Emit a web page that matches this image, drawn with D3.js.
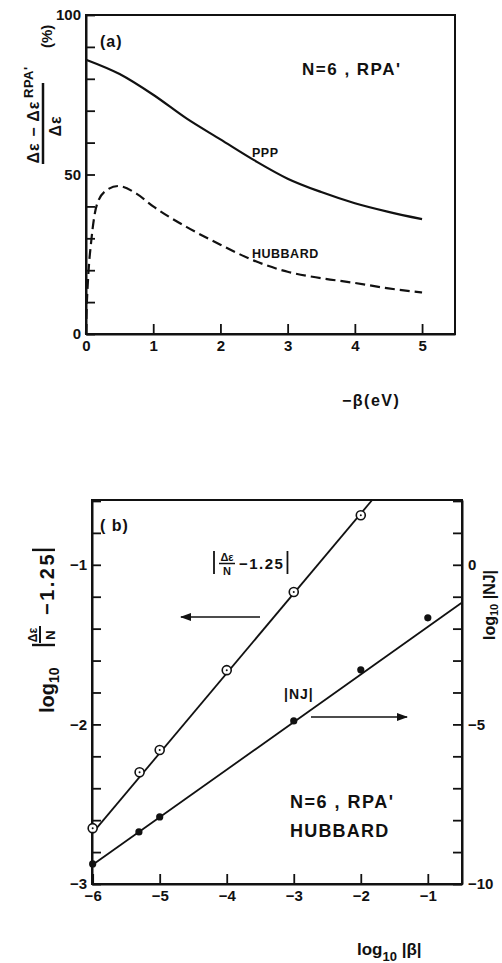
<!DOCTYPE html>
<html>
<head>
<meta charset="utf-8">
<script src="https://cdn.jsdelivr.net/npm/d3@7/dist/d3.min.js"></script>
<style>
  body { margin:0; background:#fff; }
  svg text { font-family:"Liberation Sans", Arial, sans-serif; font-weight:bold; fill:#111; }
</style>
</head>
<body>
<div id="main"></div>
<script>
// ---- panel (a) data : percentage vs -beta (eV)
var pppBeta = [0, 0.5, 1, 1.5, 2, 2.5, 3, 3.5, 4, 4.5, 5];
var pppVal  = [86, 81.5, 75, 67.5, 61, 54.5, 48.7, 44.5, 41, 38.3, 36];
var hubBeta = [0, 0.01, 0.03, 0.08, 0.16, 0.3, 0.48, 0.75, 1, 1.5, 2, 2.5, 3, 3.5, 4, 4.5, 5];
var hubVal  = [0, 8, 17, 29.5, 40.4, 45, 46.4, 44, 40, 33.5, 28, 23, 19.5, 17.5, 16, 14.3, 13];
var aXTicks = [0, 1, 2, 3, 4, 5];
var aYTicks = [0, 10, 20, 30, 40, 50, 60, 70, 80, 90, 100];
var aYLabels = [0, 50, 100];

// ---- panel (b) data : log10|beta|
var deLogB  = [-6, -5.3, -5, -4, -3, -2];
var deVal   = [-2.65, -2.30, -2.16, -1.66, -1.17, -0.69];
var deFit   = [[-6, -2.68], [-1.83, -0.594]];
var njLogB  = [-6, -5.31, -5, -3, -2, -1];
var njVal   = [-9.37, -8.37, -7.9, -4.89, -3.29, -1.66];
var njFit   = [[-6, -9.4], [-0.5, -1.2]];
var bXTicks = [-6, -5, -4, -3, -2, -1];
var bYLeftTicks = d3.range(-3, -0.59, 0.2).map(function(v){ return Math.round(v*10)/10; });
var bYLeftLabels = [-1, -2, -3];
var bYRightTicks = [2, 1, 0, -1, -2, -3, -4, -5, -6, -7, -8, -9, -10];
var bYRightLabels = [0, -5, -10];

var svg = d3.select('#main').append('svg')
	.attr('width', 502)
	.attr('height', 963);

function fmt(v){ return String(v).replace('-', '\u2212'); }
function vbar(g, x, y1, y2, w){
	return g.append('line').attr('x1', x).attr('x2', x).attr('y1', y1).attr('y2', y2)
		.attr('stroke', '#111').attr('stroke-width', w);
}

// ============ PANEL A ============
var xa = d3.scaleLinear().domain([0, 5.49]).range([86, 455]);
var ya = d3.scaleLinear().domain([0, 100]).range([334, 15]);

var ga = svg.append('g');

ga.append('g')
	.attr('transform', 'translate(0,334)')
	.call(d3.axisBottom(xa).tickValues(aXTicks).tickSizeInner(-10).tickSizeOuter(0).tickPadding(6)
		.tickFormat(function(d){ return fmt(d); }));
ga.append('g')
	.attr('transform', 'translate(86,0)')
	.call(d3.axisLeft(ya).tickValues(aYTicks).tickSizeInner(-9).tickSizeOuter(0).tickPadding(5)
		.tickFormat(function(d){ return aYLabels.indexOf(d) >= 0 ? d : ''; }));

ga.append('rect')
	.attr('x', xa(0)).attr('y', ya(100))
	.attr('width', xa(5.49) - xa(0)).attr('height', ya(0) - ya(100))
	.attr('fill', 'none').attr('stroke', '#111').attr('stroke-width', 2);

var lineA = d3.line().curve(d3.curveMonotoneX)
	.x(function(d){ return xa(d[0]); })
	.y(function(d){ return ya(d[1]); });

ga.append('path')
	.datum(d3.zip(pppBeta, pppVal))
	.attr('d', lineA)
	.attr('fill', 'none').attr('stroke', '#111').attr('stroke-width', 2.2);

ga.append('path')
	.datum(d3.zip(hubBeta, hubVal))
	.attr('d', lineA)
	.attr('fill', 'none').attr('stroke', '#111').attr('stroke-width', 2.2)
	.attr('stroke-dasharray', '10,5');

ga.append('text').attr('x', 100).attr('y', 47).attr('font-size', 16).attr('letter-spacing', 1).text('(a)');
ga.append('text').attr('x', 302).attr('y', 75).attr('font-size', 17).attr('letter-spacing', 1.5).text("N=6 , RPA'");
ga.append('text').attr('x', 252).attr('y', 157).attr('font-size', 12.5).attr('letter-spacing', 0.5).text('PPP');
ga.append('text').attr('x', 252).attr('y', 258).attr('font-size', 12.5).attr('letter-spacing', 0.5).text('HUBBARD');
ga.append('text').attr('x', 342).attr('y', 406).attr('font-size', 16).attr('letter-spacing', 1.5).text('\u2212\u03b2(eV)');

// rotated y title, local x = -global y, local y = global x
var ta = ga.append('g').attr('transform', 'rotate(-90)');
ta.append('text').attr('x', -132).attr('y', 39).attr('text-anchor', 'middle').attr('font-size', 16).attr('letter-spacing', 1).text('\u0394\u03b5 \u2212 \u0394\u03b5');
ta.append('line').attr('x1', -164).attr('x2', -83).attr('y1', 43).attr('y2', 43).attr('stroke', '#111').attr('stroke-width', 2.5);
ta.append('text').attr('x', -126).attr('y', 61).attr('text-anchor', 'middle').attr('font-size', 16).attr('letter-spacing', 1).text('\u0394\u03b5');
ta.append('text').attr('x', -98).attr('y', 33).attr('font-size', 13).attr('letter-spacing', 0.5).text("RPA'");
ta.append('text').attr('x', -48).attr('y', 52).attr('font-size', 15).text('(%)');

// ============ PANEL B ============
var xb = d3.scaleLinear().domain([-6.01, -0.49]).range([92, 462]);
var yb = d3.scaleLinear().domain([-3, -0.594]).range([884, 500]);
var yr = d3.scaleLinear().domain([-10, 2.03]).range([884, 500]);

var gb = svg.append('g');

gb.append('g')
	.attr('transform', 'translate(0,884)')
	.call(d3.axisBottom(xb).tickValues(bXTicks).tickSizeInner(-10).tickSizeOuter(0).tickPadding(6)
		.tickFormat(function(d){ return fmt(d); }));
gb.append('g')
	.attr('transform', 'translate(92,0)')
	.call(d3.axisLeft(yb).tickValues(bYLeftTicks).tickSizeInner(-9).tickSizeOuter(0).tickPadding(5)
		.tickFormat(function(d){ return bYLeftLabels.indexOf(d) >= 0 ? fmt(d) : ''; }));
gb.append('g')
	.attr('transform', 'translate(462,0)')
	.call(d3.axisRight(yr).tickValues(bYRightTicks).tickSizeInner(-9).tickSizeOuter(0).tickPadding(6)
		.tickFormat(function(d){ return bYRightLabels.indexOf(d) >= 0 ? fmt(d) : ''; }));

gb.append('rect')
	.attr('x', 92).attr('y', 500)
	.attr('width', 370).attr('height', 384)
	.attr('fill', 'none').attr('stroke', '#111').attr('stroke-width', 2);

var lineB = d3.line().x(function(d){ return xb(d[0]); }).y(function(d){ return yb(d[1]); });
var lineR = d3.line().x(function(d){ return xb(d[0]); }).y(function(d){ return yr(d[1]); });

gb.append('path').datum(deFit).attr('d', lineB)
	.attr('fill', 'none').attr('stroke', '#111').attr('stroke-width', 1.8);
gb.append('path').datum(njFit).attr('d', lineR)
	.attr('fill', 'none').attr('stroke', '#111').attr('stroke-width', 1.8);

var de = d3.zip(deLogB, deVal);
gb.selectAll('circle.de').data(de).enter().append('circle')
	.attr('class', 'de')
	.attr('cx', function(d){ return xb(d[0]); })
	.attr('cy', function(d){ return yb(d[1]); })
	.attr('r', 4.5).attr('fill', '#fff').attr('stroke', '#111').attr('stroke-width', 1.6);
gb.selectAll('circle.dec').data(de).enter().append('circle')
	.attr('class', 'dec')
	.attr('cx', function(d){ return xb(d[0]); })
	.attr('cy', function(d){ return yb(d[1]); })
	.attr('r', 1).attr('fill', '#111');

gb.selectAll('circle.nj').data(d3.zip(njLogB, njVal)).enter().append('circle')
	.attr('class', 'nj')
	.attr('cx', function(d){ return xb(d[0]); })
	.attr('cy', function(d){ return yr(d[1]); })
	.attr('r', 3.6).attr('fill', '#111');

// arrows
svg.append('defs').append('marker')
	.attr('id', 'ah').attr('viewBox', '0 0 10 10').attr('refX', 9).attr('refY', 5)
	.attr('markerWidth', 7).attr('markerHeight', 7).attr('orient', 'auto-start-reverse')
	.append('path').attr('d', 'M0,1.5 L10,5 L0,8.5 Z').attr('fill', '#111');
gb.append('line').attr('x1', 260).attr('x2', 181).attr('y1', 617).attr('y2', 617)
	.attr('stroke', '#111').attr('stroke-width', 1.6).attr('marker-end', 'url(#ah)');
gb.append('line').attr('x1', 311).attr('x2', 407).attr('y1', 717).attr('y2', 717)
	.attr('stroke', '#111').attr('stroke-width', 1.6).attr('marker-end', 'url(#ah)');

// in-plot labels
gb.append('text').attr('x', 100).attr('y', 531).attr('font-size', 16).attr('letter-spacing', 1).text('( b)');

vbar(gb, 214, 551, 574, 1.8);
gb.append('text').attr('x', 227).attr('y', 561).attr('text-anchor', 'middle').attr('font-size', 11).text('\u0394\u03b5');
gb.append('line').attr('x1', 219).attr('x2', 235).attr('y1', 563.5).attr('y2', 563.5).attr('stroke', '#111').attr('stroke-width', 1.5);
gb.append('text').attr('x', 227).attr('y', 575).attr('text-anchor', 'middle').attr('font-size', 11).text('N');
var t125 = gb.append('text').attr('x', 239).attr('y', 569).attr('font-size', 15).attr('letter-spacing', 1.5).text('\u22121.25');
vbar(gb, 239 + t125.node().getComputedTextLength() + 3, 551, 574, 1.8);

gb.append('text').attr('x', 284).attr('y', 699).attr('font-size', 14).attr('letter-spacing', 1).text('|NJ|');
gb.append('text').attr('x', 290).attr('y', 808).attr('font-size', 18).attr('letter-spacing', 1.5).text("N=6 , RPA'");
gb.append('text').attr('x', 290).attr('y', 837).attr('font-size', 18).attr('letter-spacing', 1.2).text('HUBBARD');

// bottom title
var xt = gb.append('text').attr('x', 357).attr('y', 955).attr('font-size', 17);
xt.append('tspan').text('log');
xt.append('tspan').attr('dy', 6).attr('font-size', 13).text('10');
xt.append('tspan').attr('dy', -6).text(' |\u03b2|');

// left rotated title (local x = distance up from y=713, local y = x - 54)
var tb = gb.append('g').attr('transform', 'translate(54,713) rotate(-90)');
var tl = tb.append('text').attr('x', 0).attr('y', 0).attr('font-size', 20);
tl.append('tspan').text('log');
tl.append('tspan').attr('dy', 5).attr('font-size', 14).text('10');
vbar(tb, 68, -22, 1, 2.4);
tb.append('text').attr('x', 78).attr('y', -17).attr('text-anchor', 'middle').attr('font-size', 12).text('\u0394\u03b5');
tb.append('line').attr('x1', 70).attr('x2', 87).attr('y1', -14).attr('y2', -14).attr('stroke', '#111').attr('stroke-width', 2);
tb.append('text').attr('x', 78).attr('y', 1).attr('text-anchor', 'middle').attr('font-size', 13).text('N');
var tlb = tb.append('text').attr('x', 98).attr('y', 0).attr('font-size', 20).attr('letter-spacing', 2.5).text('\u22121.25');
var endX = 98 + tlb.node().getComputedTextLength() + 2;
vbar(tb, endX, -22, 1, 2.4);

// right rotated title (reads bottom to top along the page edge)
var tr = gb.append('g').attr('transform', 'translate(495,640) rotate(-90)');
var trt = tr.append('text').attr('x', 0).attr('y', 0).attr('font-size', 16);
trt.append('tspan').text('log');
trt.append('tspan').attr('dy', 3).attr('font-size', 11).text('10');
trt.append('tspan').attr('dy', -3).text(' |NJ|');

// axis styling
svg.selectAll('.domain').attr('stroke', '#111').attr('stroke-width', 2);
svg.selectAll('.tick line').attr('stroke', '#111').attr('stroke-width', 1.8);
svg.selectAll('.tick text').attr('font-size', 15).attr('font-family', '"Liberation Sans", Arial, sans-serif').attr('font-weight', 'bold').attr('fill', '#111');
</script>
</body>
</html>
